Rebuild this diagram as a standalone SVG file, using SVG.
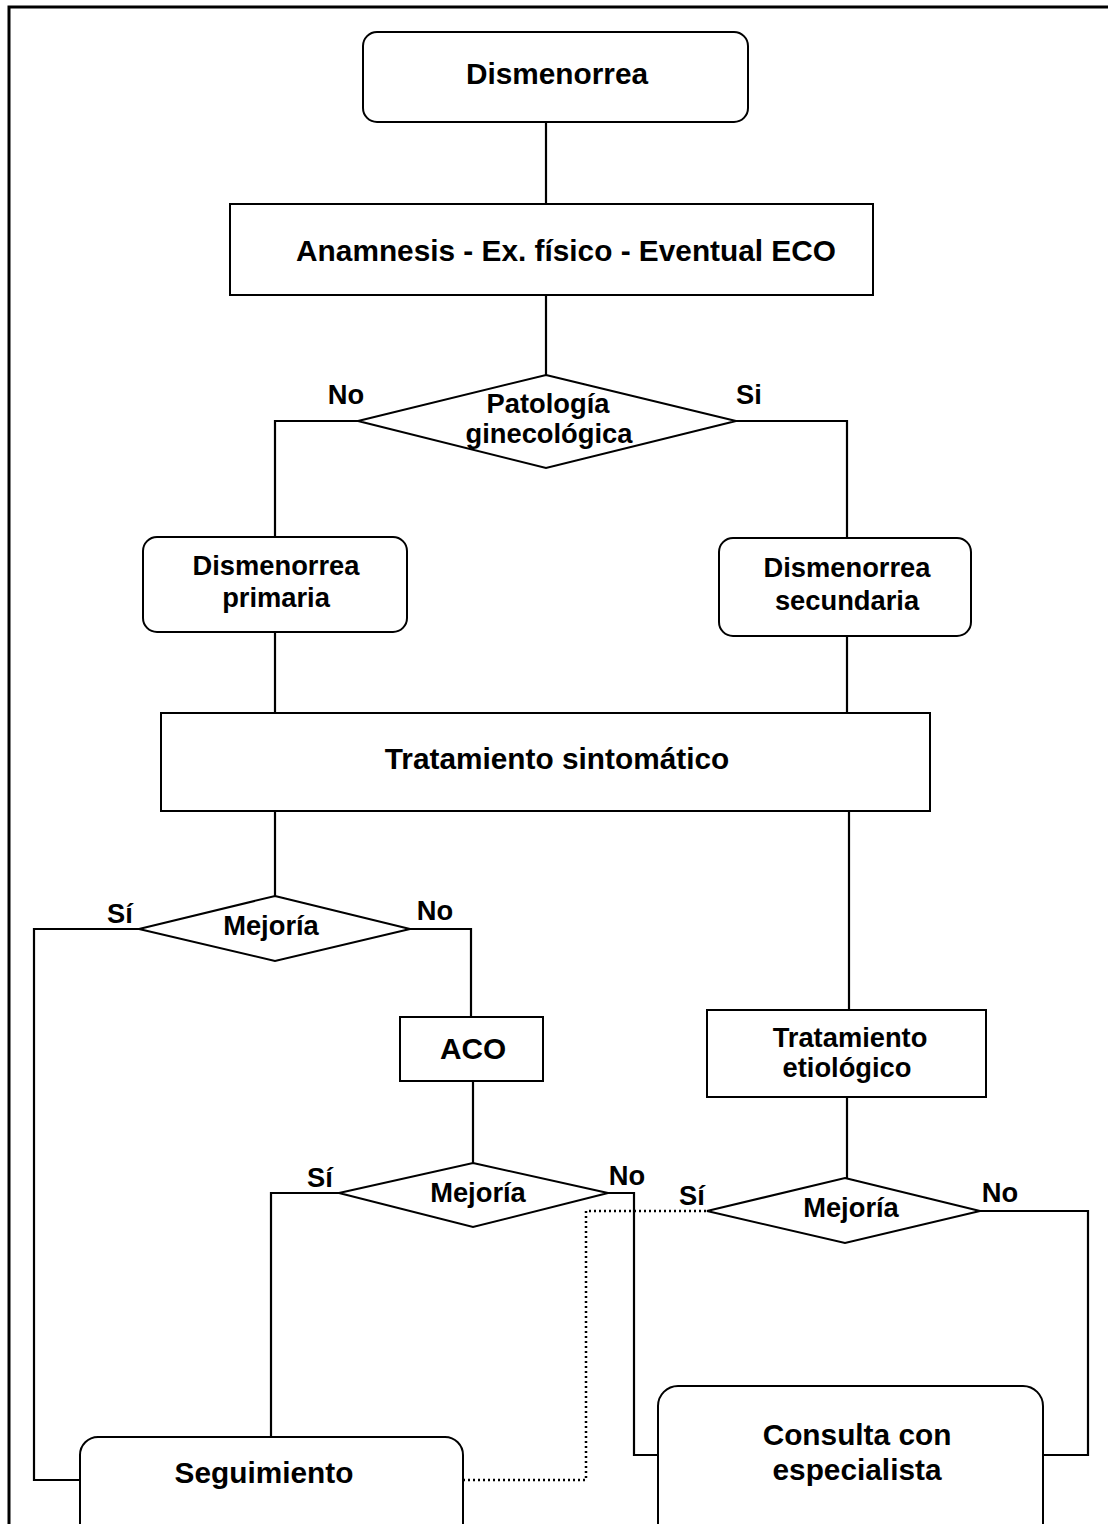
<svg xmlns="http://www.w3.org/2000/svg" width="1108" height="1524" viewBox="0 0 1108 1524">
<style>
.shape{fill:#fff;stroke:#000;stroke-width:2}
.ln{fill:none;stroke:#000;stroke-width:2.2}
.dot{fill:none;stroke:#000;stroke-width:2.5;stroke-dasharray:2 3}
text{font-family:"Liberation Sans",Arial,sans-serif;font-weight:bold;fill:#000;text-anchor:middle}
.L{font-size:29.8px}
.S{font-size:27.3px}
</style>
<rect width="1108" height="1524" fill="#fff"/>
<path d="M9,1524 V7 H1108" fill="none" stroke="#000" stroke-width="3"/>
<g id="connectors">
<path class="ln" d="M546,122 V204"/>
<path class="ln" d="M546,295 V375"/>
<path class="ln" d="M358,421 H275 V537"/>
<path class="ln" d="M736,421 H847 V538"/>
<path class="ln" d="M275,632 V713"/>
<path class="ln" d="M847,636 V713"/>
<path class="ln" d="M275,811 V896"/>
<path class="ln" d="M139,929 H34 V1480 H80"/>
<path class="ln" d="M410,929 H471 V1017"/>
<path class="ln" d="M473,1081 V1163"/>
<path class="ln" d="M849,811 V1010"/>
<path class="ln" d="M847,1097 V1178"/>
<path class="ln" d="M339,1193 H271 V1437"/>
<path class="ln" d="M608,1193 H634 V1455 H658"/>
<path class="ln" d="M980,1211 H1088 V1455 H1043"/>
<path class="dot" d="M463,1480 H586 V1211 H707"/>
<text class="S" x="346" y="404">No</text>
<text class="S" x="749" y="404">Si</text>
<text class="S" x="120" y="923">Sí</text>
<text class="S" x="435" y="920">No</text>
<text class="S" x="320" y="1187">Sí</text>
<text class="S" x="627" y="1185">No</text>
<text class="S" x="692" y="1205">Sí</text>
<text class="S" x="1000" y="1202">No</text>
</g>
<g id="n-dismenorrea">
<rect class="shape" x="363" y="32" width="385" height="90" rx="14"/>
<text class="L" x="557" y="84">Dismenorrea</text>
</g>
<g id="n-anamnesis">
<rect class="shape" x="230" y="204" width="643" height="91"/>
<text class="L" x="566" y="261">Anamnesis - Ex. físico - Eventual ECO</text>
</g>
<g id="n-patologia">
<polygon class="shape" points="546,375 736,421 546,468 358,421"/>
<text class="S" x="548" y="413">Patología</text>
<text class="S" x="549" y="443">ginecológica</text>
</g>
<g id="n-primaria">
<rect class="shape" x="143" y="537" width="264" height="95" rx="14"/>
<text class="S" x="276" y="575">Dismenorrea</text>
<text class="S" x="276" y="607">primaria</text>
</g>
<g id="n-secundaria">
<rect class="shape" x="719" y="538" width="252" height="98" rx="14"/>
<text class="S" x="847" y="577">Dismenorrea</text>
<text class="S" x="847" y="610">secundaria</text>
</g>
<g id="n-sintomatico">
<rect class="shape" x="161" y="713" width="769" height="98"/>
<text class="L" x="557" y="769">Tratamiento sintomático</text>
</g>
<g id="n-mejoria1">
<polygon class="shape" points="275,896 410,929 275,961 139,929"/>
<text class="S" x="271" y="935">Mejoría</text>
</g>
<g id="n-aco">
<rect class="shape" x="400" y="1017" width="143" height="64"/>
<text class="L" x="473" y="1059">ACO</text>
</g>
<g id="n-etiologico">
<rect class="shape" x="707" y="1010" width="279" height="87"/>
<text class="S" x="850" y="1047">Tratamiento</text>
<text class="S" x="847" y="1077">etiológico</text>
</g>
<g id="n-mejoria2">
<polygon class="shape" points="473,1163 608,1193 473,1227 339,1193"/>
<text class="S" x="478" y="1202">Mejoría</text>
</g>
<g id="n-mejoria3">
<polygon class="shape" points="845,1178 980,1211 845,1243 707,1211"/>
<text class="S" x="851" y="1217">Mejoría</text>
</g>
<g id="n-seguimiento">
<rect class="shape" x="80" y="1437" width="383" height="120" rx="18"/>
<text class="L" x="264" y="1483">Seguimiento</text>
</g>
<g id="n-consulta">
<rect class="shape" x="658" y="1386" width="385" height="170" rx="20"/>
<text class="L" x="857" y="1445">Consulta con</text>
<text class="L" x="857" y="1480">especialista</text>
</g>
</svg>
